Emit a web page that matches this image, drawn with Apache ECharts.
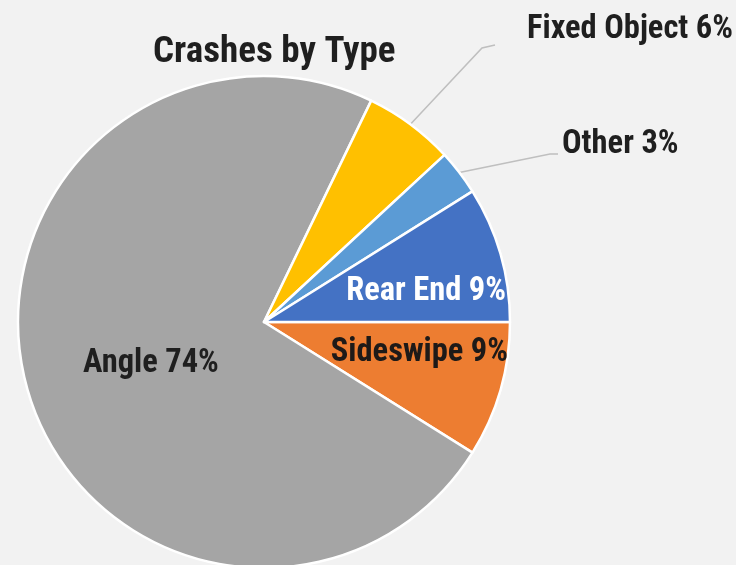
<!DOCTYPE html>
<html>
<head>
<meta charset="utf-8">
<script src="https://cdn.jsdelivr.net/npm/echarts@6/dist/echarts.min.js"></script>
<style>
  html, body { margin: 0; padding: 0; background: #f2f2f2; }
  #chart { width: 736px; height: 565px; }
</style>
</head>
<body>
<div id="chart"></div>
<script>
// Crash counts by type, as shares of all crashes (percent)
const categories = ['Sideswipe', 'Angle', 'Fixed Object', 'Other', 'Rear End'];
const shares = [9, 74, 6, 3, 9];
const sliceColors = ['#ed7d31', '#a5a5a5', '#ffc000', '#5b9bd5', '#4472c4'];

const FONT = "'Liberation Sans Narrow', 'Arial Narrow', 'Roboto Condensed', 'Liberation Sans', sans-serif";
const CX = 264, CY = 322, R = 246;

// Where each label sits, as offsets from the pie centre
const labelPlacement = {
  'Rear End':     { dx: 242, dy: -30, align: 'right', color: '#ffffff', inside: true },
  'Sideswipe':    { dx: 244, dy: 31, align: 'right', color: '#1e1a18', inside: true },
  'Angle':        { dx: -181, dy: 42, align: 'left', color: '#1f1f1f', inside: true },
  'Fixed Object': { dx: 263, dy: -292, align: 'left', color: '#1f1f1f', inside: false,
                    bend: [218, -274], end: [231, -277] },
  'Other':        { dx: 298, dy: -177, align: 'left', color: '#1f1f1f', inside: false,
                    bend: [286, -168], end: [294, -168] }
};

const data = categories.map((name, i) => ({
  name: name,
  value: shares[i],
  itemStyle: { color: sliceColors[i] },
  label: { color: labelPlacement[name].color },
  labelLine: { show: !labelPlacement[name].inside }
}));

const chart = echarts.init(document.getElementById('chart'), null, { renderer: 'canvas' });

chart.setOption({
  backgroundColor: '#f2f2f2',
  animation: false,
  title: {
    text: 'Crashes by Type',
    left: 153,
    top: 34,
    padding: 0,
    textStyle: {
      fontFamily: FONT,
      fontWeight: 'bold',
      fontSize: 37,
      color: '#1f1f1f'
    }
  },
  series: [{
    type: 'pie',
    center: [CX, CY],
    radius: R,
    startAngle: 0,
    clockwise: true,
    avoidLabelOverlap: false,
    itemStyle: { borderColor: '#ffffff', borderWidth: 2.5 },
    label: {
      show: true,
      position: 'outside',
      formatter: '{b} {c}%',
      fontFamily: FONT,
      fontWeight: 'bold',
      fontSize: 32.5
    },
    labelLine: {
      show: true,
      lineStyle: { color: '#bfbfbf', width: 1.5 }
    },
    labelLayout: function (params) {
      const name = categories[params.dataIndex];
      const p = labelPlacement[name];
      const out = {
        x: CX + p.dx,
        y: CY + p.dy,
        align: p.align,
        verticalAlign: 'middle'
      };
      if (!p.inside) {
        const start = params.labelLinePoints && params.labelLinePoints[0];
        out.labelLinePoints = [
          start ? [start[0], start[1]] : [CX, CY],
          [CX + p.bend[0], CY + p.bend[1]],
          [CX + p.end[0], CY + p.end[1]]
        ];
      }
      return out;
    },
    data: data
  }]
});
</script>
</body>
</html>
